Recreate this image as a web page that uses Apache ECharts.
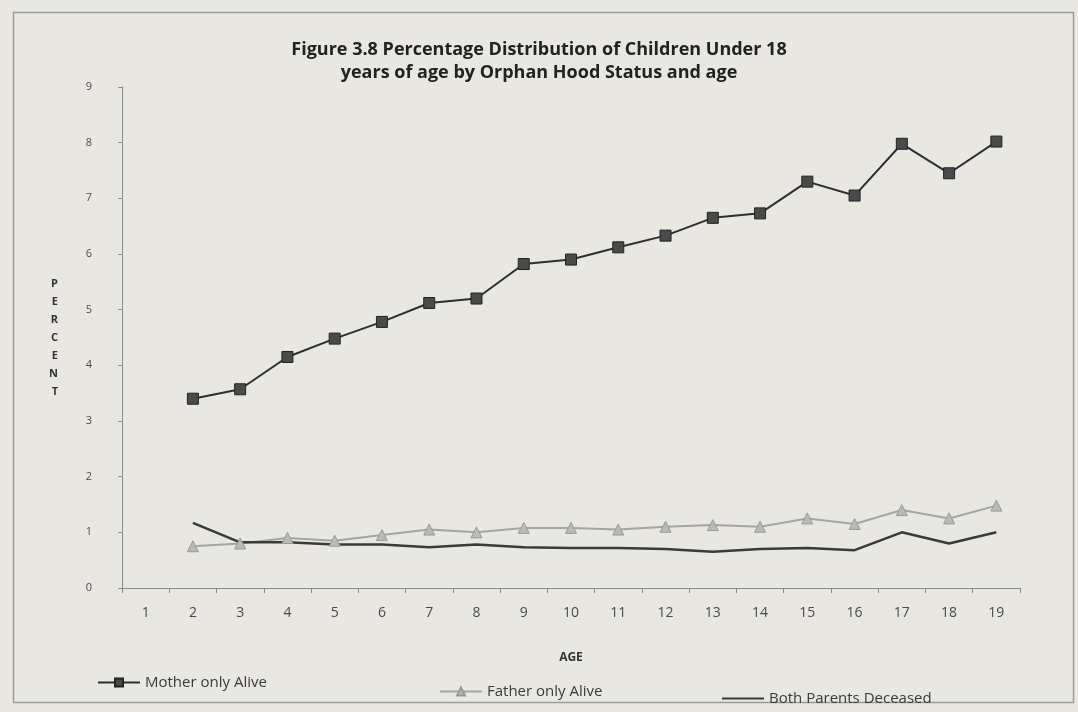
<!DOCTYPE html>
<html>
<head>
<meta charset="utf-8">
<script src="https://cdn.jsdelivr.net/npm/echarts@6/dist/echarts.min.js"></script>
<style>
    html, body { margin: 0; padding: 0; background: #e9e7e2; }
    #chart { width: 1078px; height: 712px; }
</style>
</head>
<body>
<div id="chart"></div>
<script>
const ages = ['1', '2', '3', '4', '5', '6', '7', '8', '9', '10', '11', '12', '13', '14', '15', '16', '17', '18', '19'];
const motherOnly = [null, 3.4, 3.57, 4.15, 4.48, 4.78, 5.12, 5.2, 5.82, 5.9, 6.12, 6.33, 6.65, 6.73, 7.3, 7.05, 7.98, 7.45, 8.02];
const fatherOnly = [null, 0.75, 0.8, 0.9, 0.85, 0.95, 1.05, 1.0, 1.08, 1.08, 1.05, 1.1, 1.13, 1.1, 1.25, 1.15, 1.4, 1.25, 1.48];
const bothDeceased = [null, 1.17, 0.82, 0.82, 0.78, 0.78, 0.73, 0.78, 0.73, 0.72, 0.72, 0.7, 0.65, 0.7, 0.72, 0.68, 1.0, 0.8, 1.0];

const fontFamily = '"Open Sans", "DejaVu Sans", sans-serif';
const axisColor = '#8a8a88';
const labelColor = '#4a4a4a';

const chart = echarts.init(document.getElementById('chart'), null, { renderer: 'canvas' });

const legendBase = {
    itemWidth: 42,
    itemHeight: 10,
    itemGap: 4,
    textStyle: { color: '#3a3a3a', fontFamily, fontSize: 15 },
};

chart.setOption({
    animation: false,
    backgroundColor: '#e9e7e2',
    textStyle: { fontFamily },
    title: {
        text: 'Figure 3.8 Percentage Distribution of Children Under 18\nyears of age by Orphan Hood Status and age',
        left: 'center',
        top: 33,
        textStyle: { color: '#222', fontFamily, fontSize: 18, fontWeight: 'bold', lineHeight: 23 },
    },
    graphic: [{
        type: 'rect',
        shape: { x: 13.5, y: 12.5, width: 1060, height: 690 },
        style: { fill: 'none', stroke: '#9a9a98', lineWidth: 1.5 },
        silent: true,
    }],
    legend: [
        { ...legendBase, left: 92, top: 670, data: ['Mother only Alive'] },
        { ...legendBase, left: 434, top: 679, data: ['Father only Alive'] },
        { ...legendBase, left: 716, top: 686, data: [{ name: 'Both Parents Deceased', itemStyle: { opacity: 0 } }] },
    ],
    grid: { top: 87, left: 122, right: 58, bottom: 124 },
    xAxis: {
        type: 'category',
        data: ages,
        boundaryGap: true,
        name: 'AGE',
        nameLocation: 'middle',
        nameGap: 64,
        nameTextStyle: { color: '#333', fontSize: 12, fontWeight: 'bold' },
        axisLine: { lineStyle: { color: axisColor, width: 1 } },
        axisTick: { show: true, alignWithLabel: false, length: 5, lineStyle: { color: axisColor } },
        axisLabel: { color: labelColor, fontSize: 14, margin: 18 },
    },
    yAxis: {
        type: 'value',
        min: 0,
        max: 9,
        interval: 1,
        name: 'P\nE\nR\nC\nE\nN\nT',
        nameLocation: 'middle',
        nameRotate: 0,
        nameGap: 64,
        nameTextStyle: { color: '#333', fontSize: 11, fontWeight: 'bold', lineHeight: 18 },
        axisLine: { show: true, lineStyle: { color: axisColor, width: 1 } },
        axisTick: { show: true, length: 4, lineStyle: { color: axisColor } },
        axisLabel: { color: labelColor, fontSize: 11, margin: 30 },
        splitLine: { show: false },
    },
    series: [
        {
            name: 'Mother only Alive',
            type: 'line',
            data: motherOnly,
            symbol: 'rect',
            symbolSize: 11,
            lineStyle: { color: '#2e2e2e', width: 2 },
            itemStyle: { color: '#4a4a4a', borderColor: '#222', borderWidth: 1 },
            z: 3,
        },
        {
            name: 'Father only Alive',
            type: 'line',
            data: fatherOnly,
            symbol: 'triangle',
            symbolSize: 11,
            lineStyle: { color: '#a4a4a2', width: 2 },
            itemStyle: { color: '#b9b9b6', borderColor: '#9a9a98', borderWidth: 1 },
            z: 2,
        },
        {
            name: 'Both Parents Deceased',
            type: 'line',
            data: bothDeceased,
            symbol: 'none',
            lineStyle: { color: '#3a3a3a', width: 2.5 },
            itemStyle: { color: '#3a3a3a' },
            z: 2,
        },
    ],
});
</script>
</body>
</html>
